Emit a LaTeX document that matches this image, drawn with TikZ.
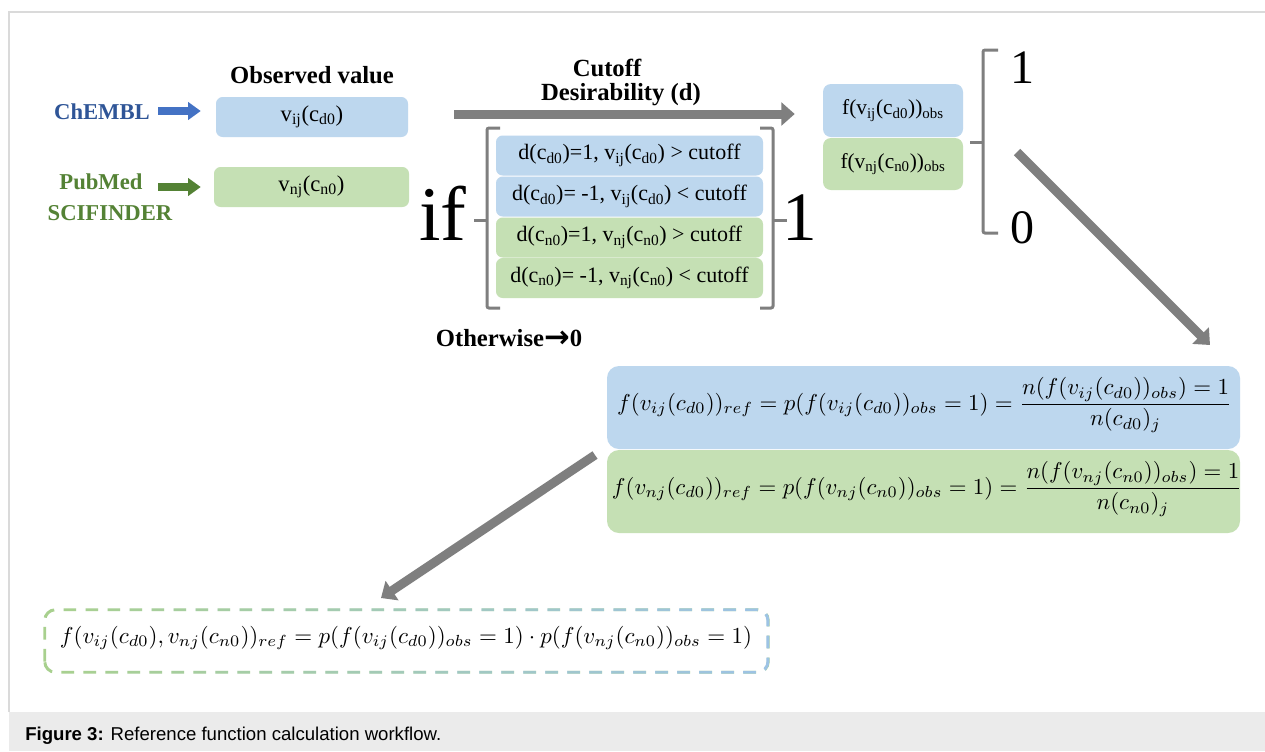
\documentclass[tikz,border=0pt]{standalone}
\usepackage{fontspec}
\usepackage{amsmath}
\usepackage{graphicx}
\setmainfont{Liberation Serif}
\newfontfamily\capfont{Liberation Sans}
\newfontfamily\arrowfont{DejaVu Sans}
\usetikzlibrary{arrows.meta,fadings}
\definecolor{bbox}{HTML}{BDD7EE}
\definecolor{gbox}{HTML}{C5E0B4}
\definecolor{btext}{HTML}{2F5597}
\definecolor{gtext}{HTML}{548235}
\definecolor{barrow}{HTML}{4472C4}
\definecolor{garrow}{HTML}{548235}
\definecolor{arrgray}{HTML}{7F7F7F}
\definecolor{framec}{HTML}{DADADA}
\definecolor{capbg}{HTML}{EBEBEB}
\definecolor{dgreen}{HTML}{A9D18E}
\definecolor{dblue}{HTML}{9DC3E6}
\newcommand{\sbt}[1]{$_{\text{#1}}$}
\tikzfading[name=fadetoright, left color=transparent!100, right color=transparent!0]
\begin{document}
\begin{tikzpicture}[x=0.75pt,y=-0.75pt,
  box/.style={rounded corners=5pt, inner sep=0pt, align=center},
  bluebox/.style={box, fill=bbox},
  greenbox/.style={box, fill=gbox},
  txt/.style={inner sep=0pt, anchor=base},
  boxfont/.style={font=\fontsize{17pt}{20pt}\selectfont},
  condfont/.style={font=\fontsize{16.5pt}{19pt}\selectfont},
  obsfont/.style={font=\fontsize{16pt}{19pt}\selectfont},
  headfont/.style={font=\bfseries\fontsize{18.5pt}{22pt}\selectfont},
  srcfont/.style={font=\bfseries\fontsize{17pt}{20pt}\selectfont},
  bigfont/.style={font=\fontsize{58pt}{60pt}\selectfont},
  onefont/.style={font=\fontsize{52pt}{56pt}\selectfont},
  midfont/.style={font=\fontsize{36pt}{40pt}\selectfont},
  bracket/.style={draw=arrgray, line width=2.25pt, rounded corners=1.5pt},
  grayarrow/.style={draw=arrgray, line width=6.75pt, -{Triangle[length=10pt,width=17pt]}},
  bluearrow/.style={draw=barrow, line width=6pt, -{Triangle[length=9.5pt,width=13pt]}},
  greenarrow/.style={draw=garrow, line width=6pt, -{Triangle[length=9.5pt,width=13pt]}}
]
% page, frame and caption band
\path[fill=white] (0,0) rectangle (1265,751);
\useasboundingbox (0,0) rectangle (1265,751);
\fill[capbg] (9,712) rectangle (1265,751);
\draw[framec, line width=1.1pt] (9,712) -- (9,12) -- (1265,12);
\node[inner sep=0pt, anchor=base west] (cap) at (25,740)
  {\resizebox{312pt}{!}{\capfont\fontsize{12pt}{14pt}\selectfont\textbf{Figure 3:} Reference function calculation workflow.}};

% observed values
\node[txt, headfont] (obsv) at (312,83) {Observed value};
\node[bluebox, boxfont, minimum width=144pt, minimum height=30pt] (vij) at (312,117)
  {v\sbt{ij}(c\sbt{d0})};
\node[greenbox, boxfont, minimum width=146.25pt, minimum height=30pt] (vnj) at (311.5,187)
  {v\sbt{nj}(c\sbt{n0})};
\node[txt, srcfont, text=btext] (chembl) at (102,119) {ChEMBL};
\node[txt, srcfont, text=gtext] (pubmed) at (101,189) {PubMed};
\node[txt, srcfont, text=gtext] (scif) at (110,220) {SCIFINDER};
\coordinate (a1s) at (158,111);
\coordinate (a2s) at (158,187);
\draw[bluearrow, shorten >=11.25pt] (a1s) -- (a1s -| vij.west);
\draw[greenarrow, shorten >=9.75pt] (a2s) -- (a2s -| vnj.west);

% cutoff arrow
\node[txt, headfont] (cut) at (607,76) {Cutoff};
\node[txt, headfont] (des) at (621,100) {Desirability (d)};

% condition block
\node[txt, bigfont] (if) at (443,240) {if};
\node[txt, onefont] (one) at (800,240) {1};
\node[bluebox, condfont, minimum width=200.25pt, minimum height=30pt] (c1) at (629.5,155.5)
  {d(c\sbt{d0})=1, v\sbt{ij}(c\sbt{d0}) {\textgreater} cutoff};
\node[bluebox, condfont, minimum width=200.25pt, minimum height=30pt] (c2) at (629.5,196.5)
  {d(c\sbt{d0})= -1, v\sbt{ij}(c\sbt{d0}) {\textless} cutoff};
\node[greenbox, condfont, minimum width=200.25pt, minimum height=30pt] (c3) at (629.5,237.5)
  {d(c\sbt{n0})=1, v\sbt{nj}(c\sbt{n0}) {\textgreater} cutoff};
\node[greenbox, condfont, minimum width=200.25pt, minimum height=30pt] (c4) at (629.5,278)
  {d(c\sbt{n0})= -1, v\sbt{nj}(c\sbt{n0}) {\textless} cutoff};
\draw[bracket] (500,128) -- (487,128) -- (487,308) -- (500,308);
\draw[bracket] (487,220) -- (474,220);
\draw[bracket] (760,128) -- (773,128) -- (773,308) -- (760,308);
\draw[bracket] (773,220) -- (787,220);
\node[txt, headfont] (other) at (509,346) {Otherwise{\arrowfont\bfseries\fontsize{23pt}{24pt}\selectfont\raisebox{-1pt}{→}}0};

% observed function
\node[bluebox, obsfont, minimum width=105pt, minimum height=39.75pt, rounded corners=6pt] (fo1) at (893,110.5)
  {f(v\sbt{ij}(c\sbt{d0}))\sbt{obs}};
\node[greenbox, obsfont, minimum width=105pt, minimum height=39pt, rounded corners=6pt] (fo2) at (893,164)
  {f(v\sbt{nj}(c\sbt{n0}))\sbt{obs}};
\coordinate (gs) at (454,114);
\draw[grayarrow, shorten >=21pt] (gs) -- (gs -| fo1.west);
\draw[bracket] (998,50) -- (983,50) -- (983,233) -- (998,233);
\draw[bracket] (983,142) -- (970,142);
\node[txt, midfont] (r1) at (1022,83) {1};
\node[txt, midfont] (r0) at (1022,243) {0};

% reference function boxes
\node[bluebox, minimum width=474.75pt, minimum height=62.25pt, rounded corners=9pt] (fr1) at (923.5,407.5) {};
\node[greenbox, minimum width=474.75pt, minimum height=62.25pt, rounded corners=9pt] (fr2) at (923.5,491.5) {};
\node[inner sep=0pt] (eq1) at (924.5,405)
  {\resizebox{461pt}{!}{$\displaystyle f(v_{ij}(c_{d0}))_{ref}=p(f(v_{ij}(c_{d0}))_{obs}=1)=\frac{n(f(v_{ij}(c_{d0}))_{obs})=1}{n(c_{d0})_{j}}$}};
\node[inner sep=0pt] (eq2) at (927,489)
  {\resizebox{472.5pt}{!}{$\displaystyle f(v_{nj}(c_{d0}))_{ref}=p(f(v_{nj}(c_{n0}))_{obs}=1)=\frac{n(f(v_{nj}(c_{n0}))_{obs})=1}{n(c_{n0})_{j}}$}};
\coordinate (d1s) at (1017,152);
\coordinate (d1e) at (1210,345);
\draw[grayarrow] (d1s) -- (d1e);

% combined reference function
\coordinate (d2s) at (595,455);
\coordinate (d2e) at (381,598);
\draw[grayarrow] (d2s) -- (d2e);
\node[inner sep=0pt, minimum width=542.25pt, minimum height=46.5pt] (comb) at (406.5,641) {};
\draw[dgreen, line width=2.2pt, dash pattern=on 9.5pt off 7pt, rounded corners=8pt]
  (comb.south west) rectangle (comb.north east);
\draw[dblue, line width=2.2pt, dash pattern=on 9.5pt off 7pt, rounded corners=8pt, path fading=fadetoright]
  (comb.south west) rectangle (comb.north east);
\node[inner sep=0pt] (eq3) at (406,638)
  {\resizebox{519pt}{!}{$f(v_{ij}(c_{d0}),v_{nj}(c_{n0}))_{ref}=p(f(v_{ij}(c_{d0}))_{obs}=1)\cdot p(f(v_{nj}(c_{n0}))_{obs}=1)$}};
\end{tikzpicture}
\end{document}
